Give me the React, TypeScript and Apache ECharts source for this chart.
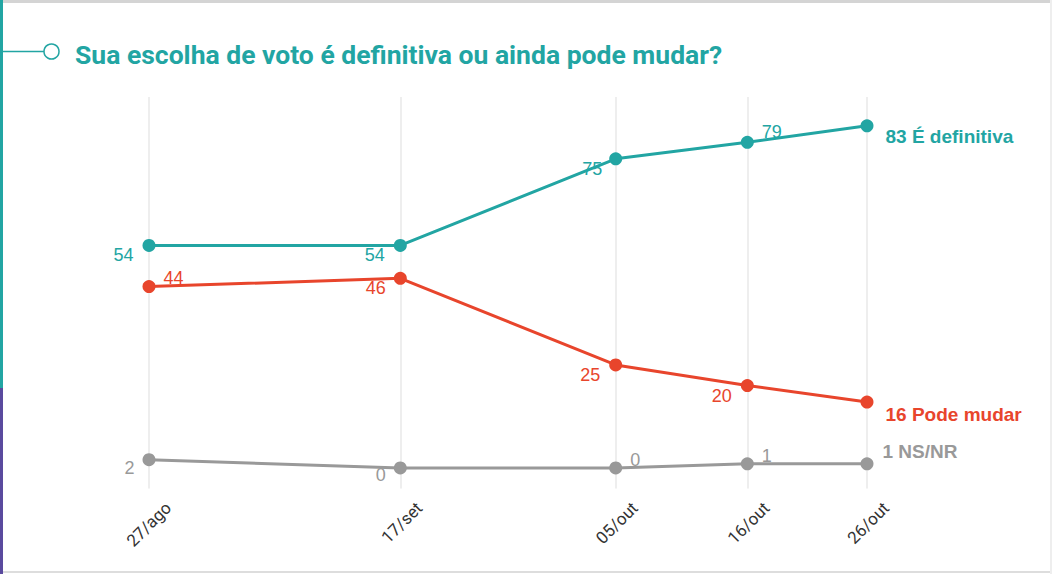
import React, { useEffect, useRef } from "react";
import * as echarts from "echarts";

const dates = ["2018-08-27", "2018-09-17", "2018-10-05", "2018-10-16", "2018-10-26"];
const dateLabels = ["27/ago", "17/set", "05/out", "16/out", "26/out"];
const definitiva = [54, 54, 75, 79, 83];
const podeMudar = [44, 46, 25, 20, 16];
const nsnr = [2, 0, 0, 1, 1];
const seriesNames = ["É definitiva", "Pode mudar", "NS/NR"];
const titleText = "Sua escolha de voto é definitiva ou ainda pode mudar?";

const TEAL = "#22a5a3";
const RED = "#e8452c";
const GRAY = "#999999";
const PURPLE = "#5a4a9e";

const DAY = 86400000;
// day index from first survey date
const dayOf = (d: string) => Math.round((new Date(d + "T00:00:00Z").getTime() - new Date(dates[0] + "T00:00:00Z").getTime()) / DAY);

// label placements: [side, dx, dy]
const tealPos: [string, number, number][] = [
  ["left", -9, 10], ["left", -9, 10], ["left", -7, 10], ["right", 8, -10], ["right", 12, 11],
];
const redPos: [string, number, number][] = [
  ["right", 8, -9], ["left", -8, 10], ["left", -9, 10], ["left", -9, 10], ["right", 12, 12],
];
const grayPos: [string, number, number][] = [
  ["left", -8, 8], ["left", -8, 7], ["right", 8, -8], ["right", 8, -8], ["right", 9, -12],
];

function buildData(vals: number[], pos: [string, number, number][], name: string, color: string) {
  return vals.map((v, i) => {
    const last = i === vals.length - 1;
    return {
      value: [dayOf(dates[i]), v],
      label: {
        show: true,
        position: pos[i][0],
        distance: 0,
        offset: [pos[i][1], pos[i][2]],
        color,
        fontSize: last ? 19 : 18,
        fontFamily: "Liberation Sans, Arial, sans-serif",
        fontWeight: last ? "bold" : "normal",
        formatter: last ? `${v} ${name}` : `${v}`,
      },
    };
  });
}

function lineSeries(vals: number[], pos: [string, number, number][], name: string, color: string) {
  return {
    type: "line",
    name,
    xAxisIndex: 0,
    yAxisIndex: 0,
    z: 3,
    symbol: "circle",
    symbolSize: 13,
    showSymbol: true,
    itemStyle: { color },
    lineStyle: { color, width: 3 },
    emphasis: { disabled: true },
    data: buildData(vals, pos, name, color),
  };
}

export default function App() {
  const ref = useRef<HTMLDivElement>(null);
  useEffect(() => {
    document.body.style.margin = "0";
    if (!ref.current) return;
    const chart = echarts.init(ref.current, undefined, { renderer: "svg" });
    const dayVals = dates.map(dayOf);
    const xMin = dayVals[0];
    const xMax = dayVals[dayVals.length - 1];
    const labelMap: Record<number, string> = {};
    dayVals.forEach((d, i) => (labelMap[d] = dateLabels[i]));
    chart.setOption({
      animation: false,
      backgroundColor: "#ffffff",
      grid: [
        { left: 149, right: 185, top: 97, bottom: 85.4, containLabel: false },
        { left: 168, right: 166, top: 400, bottom: 77, containLabel: false },
      ],
      xAxis: [
        {
          type: "value",
          gridIndex: 0,
          min: xMin,
          max: xMax,
          axisLine: { show: false },
          axisTick: { show: false },
          axisLabel: { show: false },
          splitLine: { show: false },
        },
        {
          type: "value",
          gridIndex: 1,
          min: xMin,
          max: xMax,
          axisLine: { show: false },
          axisTick: { show: false },
          splitLine: { show: false },
          axisLabel: {
            show: true,
            customValues: dayVals,
            rotate: 45,
            margin: 8,
            fontSize: 17,
            color: "#333333",
            fontFamily: "Roboto, sans-serif",
            hideOverlap: false,
            showMinLabel: true,
            showMaxLabel: true,
            formatter: (val: number) => labelMap[val] ?? "",
          },
        },
      ],
      yAxis: [
        {
          type: "value",
          gridIndex: 0,
          min: -5,
          max: 90,
          show: false,
          splitLine: { show: false },
        },
        {
          type: "value",
          gridIndex: 1,
          min: 0,
          max: 1,
          show: false,
        },
      ],
      series: [
        {
          type: "line",
          name: "grid",
          xAxisIndex: 0,
          yAxisIndex: 0,
          z: 1,
          data: [],
          silent: true,
          markLine: {
            z: 1,
            silent: true,
            symbol: ["none", "none"],
            label: { show: false },
            lineStyle: { color: "#e8e8e8", width: 1.5, type: "solid" },
            emphasis: { disabled: true },
            data: dayVals.map((d) => ({ xAxis: d })),
          },
        },
        lineSeries(nsnr, grayPos, seriesNames[2], GRAY),
        lineSeries(podeMudar, redPos, seriesNames[1], RED),
        lineSeries(definitiva, tealPos, seriesNames[0], TEAL),
      ],
      graphic: [
        { type: "rect", left: 0, top: 0, shape: { width: 1052, height: 3 }, style: { fill: "#d4d4d4" }, silent: true },
        { type: "rect", left: 0, top: 571, shape: { width: 1052, height: 2 }, style: { fill: "#dddddd" }, silent: true },
        { type: "rect", left: 1050, top: 0, shape: { width: 2, height: 574 }, style: { fill: "#eeeeee" }, silent: true },
        { type: "rect", left: 0, top: 0, shape: { width: 3, height: 388 }, style: { fill: TEAL }, silent: true },
        { type: "rect", left: 0, top: 388, shape: { width: 3, height: 186 }, style: { fill: PURPLE }, silent: true },
        {
          type: "line",
          shape: { x1: 0, y1: 51.5, x2: 44, y2: 51.5 },
          style: { stroke: TEAL, lineWidth: 1.5 },
          silent: true,
        },
        {
          type: "circle",
          shape: { cx: 51.5, cy: 51.5, r: 7.5 },
          style: { stroke: TEAL, lineWidth: 1.5, fill: "#ffffff" },
          silent: true,
        },
        {
          type: "text",
          x: 75,
          y: 54,
          style: {
            text: titleText,
            fill: TEAL,
            font: "bold 26.5px Roboto, sans-serif",
            verticalAlign: "middle",
          },
          silent: true,
        },
      ],
    });
    return () => chart.dispose();
  }, []);
  return (
    <div
      ref={ref}
      style={{ position: "absolute", left: 0, top: 0, width: 1052, height: 574 }}
    />
  );
}
